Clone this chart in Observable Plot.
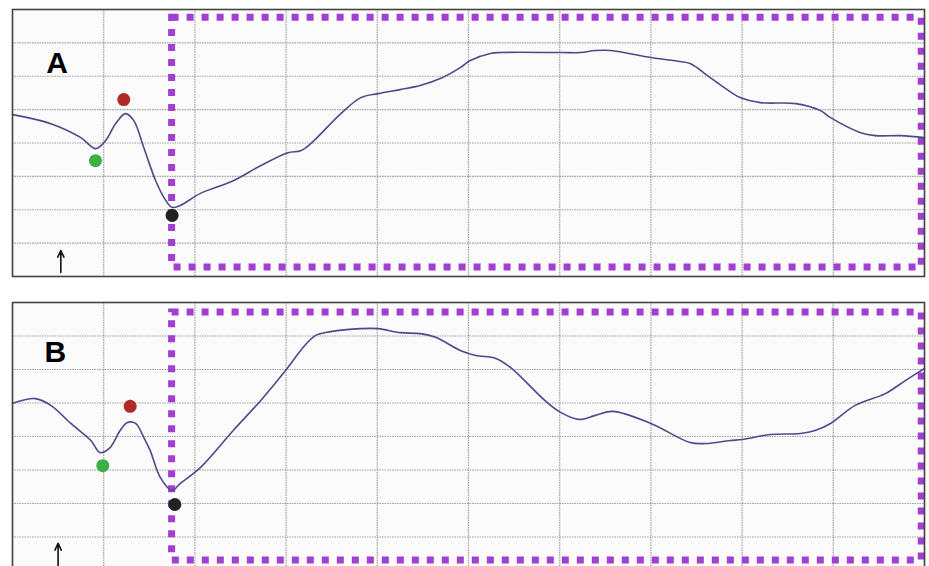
<!DOCTYPE html>
<html>
<head>
<meta charset="utf-8">
<script src="https://cdn.jsdelivr.net/npm/d3@7"></script>
<script src="https://cdn.jsdelivr.net/npm/@observablehq/plot@0.6"></script>
<style>
  html, body { margin: 0; padding: 0; background: #fff; overflow: hidden; }
  #wrap { width: 929px; height: 566px; overflow: hidden; }
  #wrap svg { display: block; }
</style>
</head>
<body>
<div id="wrap"></div>
<script>
// ---- Panel A trace ----
const traceAx = [0, 0.42, 0.75, 0.91, 1.02, 1.13, 1.24, 1.33, 1.44, 1.57, 1.68, 1.75, 1.84, 2.06, 2.42, 2.72, 3.02, 3.16, 3.27, 3.6, 3.82, 4.01, 4.25, 4.47, 4.69, 4.91, 5.02, 5.24, 5.35, 6.01, 6.23, 6.39, 6.56, 7.0, 7.32, 7.43, 7.65, 7.82, 7.98, 8.2, 8.59, 8.86, 8.97, 9.3, 9.46, 9.74, 10.0];
const traceAy = [4.85, 4.58, 4.16, 3.83, 4.07, 4.58, 4.88, 4.67, 3.86, 2.87, 2.28, 2.07, 2.13, 2.49, 2.87, 3.32, 3.71, 3.77, 3.98, 4.88, 5.36, 5.48, 5.6, 5.72, 5.93, 6.26, 6.47, 6.68, 6.71, 6.71, 6.71, 6.77, 6.77, 6.56, 6.44, 6.38, 5.96, 5.63, 5.36, 5.21, 5.18, 4.97, 4.76, 4.31, 4.22, 4.22, 4.16];

// ---- Panel B trace ----
const traceBx = [0, 0.25, 0.42, 0.64, 0.86, 0.96, 1.07, 1.18, 1.26, 1.35, 1.44, 1.51, 1.62, 1.75, 1.84, 2.06, 2.42, 2.72, 3.02, 3.16, 3.32, 3.49, 3.82, 4.01, 4.25, 4.47, 4.64, 4.91, 5.08, 5.3, 5.46, 5.84, 6.01, 6.21, 6.39, 6.58, 7.0, 7.43, 7.6, 7.87, 8.0, 8.31, 8.64, 8.8, 8.97, 9.24, 9.57, 9.79, 10.0];
const traceBy = [4.99, 5.13, 4.93, 4.39, 3.88, 3.52, 3.67, 4.18, 4.42, 4.39, 3.97, 3.58, 2.78, 2.39, 2.6, 3.07, 4.18, 5.07, 6.06, 6.57, 7.01, 7.13, 7.22, 7.22, 7.1, 7.07, 6.96, 6.57, 6.42, 6.33, 6.06, 5.07, 4.72, 4.51, 4.63, 4.75, 4.39, 3.82, 3.79, 3.88, 3.91, 4.06, 4.09, 4.18, 4.39, 4.93, 5.28, 5.67, 6.03];

// ---- Marker dots (green, red, black) ----
const dotColors = ["#3cb043", "#b02a2a", "#222222"];
const dotsAx = [0.91, 1.22, 1.75];
const dotsAy = [3.47, 5.30, 1.83];
const dotsBx = [0.99, 1.29, 1.78];
const dotsBy = [3.13, 4.90, 1.97];

// ---- Analysis window (dashed box) ----
const windowA = {x1: 1.75, x2: 9.97, y1: 0.27, y2: 7.75};
const windowB = {x1: 1.75, x2: 9.97, y1: 0.30, y2: 7.70};

// ---- Arrows ----
const arrowA = {x: 0.53, y1: 0.12, y2: 0.78};
const arrowB = {x: 0.50, y1: 0.12, y2: 0.81};

// ---- Panel labels ----
const labels = ["A", "B"];
const labelPos = [{x: 0.49, y: 6.4}, {x: 0.47, y: 6.5}];

const xTicks = d3.range(0, 11);
const yTicks = d3.range(0, 9);

function panel(tx, ty, dx, dy, win, arr, label, lp, opts) {
  const trace = tx.map((x, i) => ({x, y: ty[i]}));
  const dots = dx.map((x, i) => ({x, y: dy[i], c: dotColors[i]}));
  return Plot.plot({
    width: 929,
    height: opts.height,
    marginLeft: 12,
    marginRight: 5,
    marginTop: opts.top,
    marginBottom: opts.bottom,
    x: {domain: [0, 10], axis: null},
    y: {domain: [0, 8], axis: null},
    style: {background: "transparent", fontFamily: "Liberation Sans, Arial, sans-serif"},
    marks: [
      Plot.frame({fill: "#fbfbfb", stroke: null}),
      Plot.gridX(xTicks, {stroke: "#8a8a8a", strokeOpacity: 0.8, strokeWidth: 1.2, strokeDasharray: "1.5,1"}),
      Plot.gridY(yTicks, {stroke: "#8a8a8a", strokeOpacity: 0.8, strokeWidth: 1.2, strokeDasharray: "1.5,1"}),
      Plot.rect([win], {x1: "x1", x2: "x2", y1: "y1", y2: "y2", fill: "none", stroke: "#a23fd2", strokeWidth: 7, strokeDasharray: "7,8"}),
      Plot.line(trace, {x: "x", y: "y", curve: "catmull-rom", stroke: "#4b4b8c", strokeWidth: 1.6}),
      Plot.dot(dots, {x: "x", y: "y", r: 6.5, fill: d => d.c, stroke: null}),
      Plot.arrow([arr], {x1: "x", x2: "x", y1: "y1", y2: "y2", stroke: "#111", strokeWidth: 1.6, headLength: 7, headAngle: 50}),
      Plot.text([{...lp, t: label}], {x: "x", y: "y", text: "t", fontSize: 30, fontWeight: "bold", fill: "#000"}),
      Plot.frame({stroke: "#444", strokeWidth: 1.6})
    ]
  });
}

const wrap = document.getElementById("wrap");
wrap.appendChild(panel(traceAx, traceAy, dotsAx, dotsAy, windowA, arrowA, labels[0], labelPos[0], {height: 283, top: 9, bottom: 7}));
wrap.appendChild(panel(traceBx, traceBy, dotsBx, dotsBy, windowB, arrowB, labels[1], labelPos[1], {height: 290, top: 19, bottom: 3}));
</script>
</body>
</html>
